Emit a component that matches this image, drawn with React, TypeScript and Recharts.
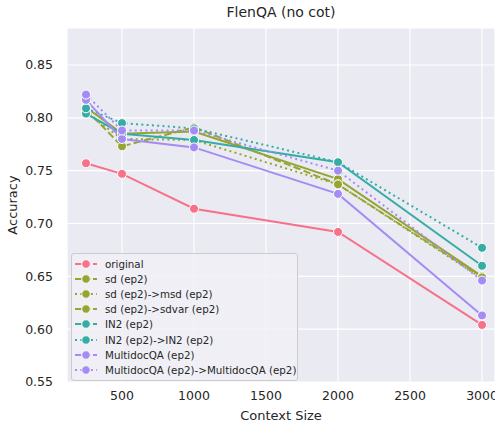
import { CartesianGrid, Line, LineChart, XAxis, YAxis } from 'recharts'

// ---------------------------------------------------------------------------
// Data
// ---------------------------------------------------------------------------

const CONTEXT_SIZES = [250, 500, 1000, 2000, 3000]
const X_TICKS = [500, 1000, 1500, 2000, 2500, 3000]
const Y_TICKS = [0.55, 0.6, 0.65, 0.7, 0.75, 0.8, 0.85]

const ORIGINAL = [0.757, 0.747, 0.714, 0.692, 0.604]
const SD = [0.81, 0.785, 0.787, 0.742, 0.65]
const SD_MSD = [0.805, 0.78, 0.779, 0.737, 0.648]
const SD_SDVAR = [0.808, 0.773, 0.791, 0.737, 0.649]
const IN2 = [0.804, 0.785, 0.779, 0.758, 0.66]
const IN2_IN2 = [0.809, 0.795, 0.79, 0.758, 0.677]
const MDQA = [0.817, 0.78, 0.772, 0.728, 0.613]
const MDQA_MDQA = [0.822, 0.788, 0.788, 0.75, 0.646]

const PINK = '#f77189'
const OLIVE = '#97a431'
const TEAL = '#36ada4'
const PURPLE = '#a48cf4'

const DOTTED = '2 3.3'
const DASHED = '7.4 3.2'

const SERIES = [
  { key: 'original', name: 'original', values: ORIGINAL, color: PINK, dash: undefined },
  { key: 'sd', name: 'sd (ep2)', values: SD, color: OLIVE, dash: undefined },
  { key: 'sdMsd', name: 'sd (ep2)->msd (ep2)', values: SD_MSD, color: OLIVE, dash: DOTTED },
  { key: 'sdSdvar', name: 'sd (ep2)->sdvar (ep2)', values: SD_SDVAR, color: OLIVE, dash: DASHED },
  { key: 'in2', name: 'IN2 (ep2)', values: IN2, color: TEAL, dash: undefined },
  { key: 'in2In2', name: 'IN2 (ep2)->IN2 (ep2)', values: IN2_IN2, color: TEAL, dash: DOTTED },
  { key: 'mdqa', name: 'MultidocQA (ep2)', values: MDQA, color: PURPLE, dash: undefined },
  {
    key: 'mdqaMdqa',
    name: 'MultidocQA (ep2)->MultidocQA (ep2)',
    values: MDQA_MDQA,
    color: PURPLE,
    dash: DOTTED,
  },
]

const rows = CONTEXT_SIZES.map((size, i) => {
  const row: Record<string, number> = { size }
  SERIES.forEach((s) => {
    row[s.key] = s.values[i]
  })
  return row
})

const FONT = '"DejaVu Sans", sans-serif'
const TEXT = '#262626'

// ---------------------------------------------------------------------------
// Legend (overlay, so the plot area is not shrunk)
// ---------------------------------------------------------------------------

function LegendBox(): React.JSX.Element {
  return (
    <div
      style={{
        position: 'absolute',
        left: 71,
        top: 253,
        width: 227,
        background: 'rgba(240,240,246,0.85)',
        border: '1px solid #cccccc',
        borderRadius: 3,
        padding: '2px 0',
        fontFamily: FONT,
        fontSize: 10.3,
        color: TEXT,
        boxSizing: 'border-box',
        overflow: 'hidden',
        whiteSpace: 'nowrap',
      }}
    >
      {SERIES.map((s) => (
        <div key={s.key} style={{ display: 'flex', alignItems: 'center', height: 15.2 }}>
          <svg width={33} height={12} style={{ flexShrink: 0 }}>
            <line
              x1={3}
              x2={25}
              y1={6}
              y2={6}
              stroke={s.color}
              strokeWidth={2}
              strokeDasharray={s.dash === DOTTED ? '2 3.3' : '6.5 2.5'}
            />
            <circle cx={14} cy={6} r={4.2} fill={s.color} stroke="#fff" strokeWidth={0.8} />
          </svg>
          <span>{s.name}</span>
        </div>
      ))}
    </div>
  )
}

// ---------------------------------------------------------------------------
// Chart
// ---------------------------------------------------------------------------

export default function App(): React.JSX.Element {
  return (
    <div
      style={{
        position: 'absolute',
        left: 0,
        top: 0,
        width: 495,
        height: 425,
        background: '#fff',
        overflow: 'hidden',
      }}
    >
      <div
        style={{
          position: 'absolute',
          left: 67,
          width: 428,
          top: 4,
          textAlign: 'center',
          fontFamily: FONT,
          fontSize: 14,
          color: TEXT,
        }}
      >
        FlenQA (no cot)
      </div>
      <LineChart
        width={495}
        height={425}
        data={rows}
        margin={{ top: 28, right: 0, left: 0, bottom: 0 }}
        style={{ position: 'absolute', left: 0, top: 0 }}
      >
        <CartesianGrid stroke="#ffffff" strokeWidth={1.2} fill="#eaeaf2" />
        <XAxis
          dataKey="size"
          type="number"
          domain={[118, 3090]}
          ticks={X_TICKS}
          allowDataOverflow
          axisLine={false}
          tickLine={false}
          height={43}
          tick={{ fontSize: 12.5, fill: TEXT, fontFamily: FONT }}
          tickMargin={3}
          label={{
            value: 'Context Size',
            position: 'insideBottom',
            offset: 5,
            style: { fontSize: 13, fill: TEXT, fontFamily: FONT },
          }}
        />
        <YAxis
          type="number"
          domain={[0.55, 0.885]}
          ticks={Y_TICKS}
          allowDataOverflow
          axisLine={false}
          tickLine={false}
          width={67}
          tick={{ fontSize: 12.5, fill: TEXT, fontFamily: FONT }}
          tickFormatter={(v: number) => v.toFixed(2)}
          tickMargin={8}
          label={{
            value: 'Accuracy',
            angle: -90,
            position: 'insideLeft',
            offset: 12,
            style: { fontSize: 13, fill: TEXT, fontFamily: FONT, textAnchor: 'middle' },
          }}
        />
        {SERIES.map((s) => (
          <Line
            key={s.key}
            dataKey={s.key}
            name={s.name}
            stroke={s.color}
            strokeWidth={2}
            strokeDasharray={s.dash}
            dot={{ r: 4.5, fill: s.color, stroke: '#fff', strokeWidth: 1, strokeDasharray: '' }}
            isAnimationActive={false}
          />
        ))}
      </LineChart>
      <LegendBox />
    </div>
  )
}
